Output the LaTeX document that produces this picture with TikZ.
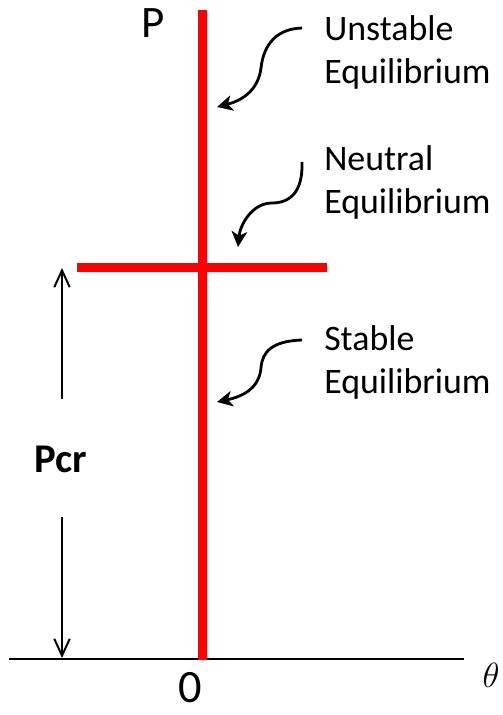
\documentclass[tikz,border=0pt]{standalone}
\usepackage{fontspec}
\setmainfont{Carlito}
\usetikzlibrary{arrows.meta}
\tikzset{
  bkpath/.style={draw=red, line width=6.4pt},
  bkaxis/.style={draw=black, line width=1pt},
  bklabel/.style={align=left, inner sep=0pt, font=\fontsize{25.5}{30.6}\selectfont},
  bkcurve/.style={-{Stealth[length=11pt, width=11pt, inset=3pt]}, line width=2pt},
  bkrange/.style={-{Straight Barb[length=12pt, width=11pt]}, line width=1.4pt}
}

\begin{document}
\begin{tikzpicture}[x=0.025cm, y=-0.025cm]
  \useasboundingbox (0,0) rectangle (502,715);
  \coordinate (top) at (202,10);
  \coordinate (foot) at (202,660);
  \coordinate (crl) at (77,267);
  \coordinate (crr) at (327,267);
  \coordinate (axl) at (9,659);
  \coordinate (axr) at (464,659);
  \draw[bkaxis] (axl) -- (axr);
  \draw[bkpath] (top) -- (foot);
  \draw[bkpath] (crl) -- (crr);
  \node[inner sep=0pt, anchor=base, font=\fontsize{32}{36}\selectfont] (p) at (153,38) {P};
  \node[inner sep=0pt, anchor=base, font=\fontsize{33}{36}\selectfont] (zero) at (190,702) {0};
  \node[inner sep=0pt, anchor=base, font=\fontsize{31}{34}\selectfont] (theta) at (491,687) {$\theta$};
  \node[inner sep=0pt, anchor=base, font=\fontsize{29}{32}\selectfont\bfseries] (pcr) at (61,472) {Pcr};
  \node[bklabel, anchor=west] (unst) at (324,52) {Unstable\\Equilibrium};
  \node[bklabel, anchor=west] (neut) at (324,182) {Neutral\\Equilibrium};
  \node[bklabel, anchor=west] (stab) at (324,362) {Stable\\Equilibrium};
  \coordinate (pcrtop) at (62,268);
  \coordinate (pcrbot) at (62,658);
  \draw[bkrange] (pcr) ++(1,-60) -- (pcrtop);
  \draw[bkrange] (pcr) ++(1,58) -- (pcrbot);
  \coordinate (u0) at (302,28);
  \coordinate (u1) at (217,107);
  \coordinate (n0) at (302,162);
  \coordinate (n1) at (238,247);
  \coordinate (s0) at (302,340);
  \coordinate (s1) at (217,402);
  \draw[bkcurve] (u0) .. controls (272,29) and (263,50) .. (261,68)
    .. controls (258,92) and (240,101) .. (u1);
  \draw[bkcurve] (n0) .. controls (303,192) and (290,203) .. (272,203)
    .. controls (252,203) and (240,225) .. (n1);
  \draw[bkcurve] (s0) .. controls (272,341) and (262,352) .. (261,368)
    .. controls (259,390) and (240,397) .. (s1);
\end{tikzpicture}
\end{document}
